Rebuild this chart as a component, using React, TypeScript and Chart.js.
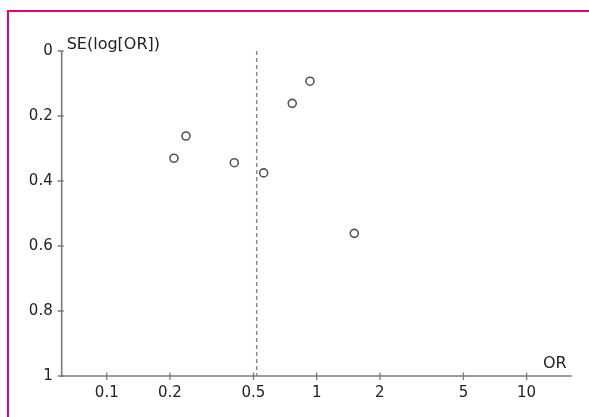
import React, { useEffect, useRef } from "react";
import { Chart, registerables } from "chart.js";

Chart.register(...registerables);

// ---- data ----
const studyOR = [0.209, 0.2385, 0.405, 0.559, 0.765, 0.929, 1.51];
const studySE = [0.33, 0.2615, 0.3437, 0.375, 0.161, 0.093, 0.561];
const pooledOR = 0.518;
const xTicks = [0.1, 0.2, 0.5, 1, 2, 5, 10];
const yTicks = [0, 0.2, 0.4, 0.6, 0.8, 1];
const xMin = 0.061;
const xMax = 16.4;
const xTitle = "OR";
const yTitle = "SE(log[OR])";

const AXIS_COLOR = "#7a7a7a";
const FONT = "'DejaVu Sans', 'Liberation Sans', Arial, sans-serif";

const axesPlugin = {
  id: "funnelAxes",
  beforeDatasetsDraw(chart: any) {
    const { ctx, chartArea } = chart;
    const xs = chart.scales.x;
    const ys = chart.scales.y;
    ctx.save();
    ctx.strokeStyle = AXIS_COLOR;
    ctx.lineWidth = 1.6;
    ctx.beginPath();
    ctx.moveTo(chartArea.left, chartArea.top);
    ctx.lineTo(chartArea.left, chartArea.bottom);
    ctx.lineTo(chartArea.right, chartArea.bottom);
    ctx.stroke();
    ctx.lineWidth = 1.3;
    ctx.beginPath();
    xTicks.forEach((v) => {
      const px = xs.getPixelForValue(v);
      ctx.moveTo(px, chartArea.bottom - 3.5);
      ctx.lineTo(px, chartArea.bottom + 4);
    });
    yTicks.forEach((v) => {
      const py = ys.getPixelForValue(v);
      ctx.moveTo(chartArea.left - 4, py);
      ctx.lineTo(chartArea.left + 2, py);
    });
    ctx.stroke();
    ctx.fillStyle = "#222";
    ctx.font = `16px ${FONT}`;
    ctx.textBaseline = "alphabetic";
    ctx.textAlign = "left";
    ctx.fillText(yTitle, chartArea.left + 5, chartArea.top - 2);
    ctx.textAlign = "right";
    ctx.fillText(xTitle, chartArea.right - 5, chartArea.bottom - 8);
    ctx.restore();
  },
};

export default function App() {
  const ref = useRef<HTMLCanvasElement | null>(null);

  useEffect(() => {
    if (!ref.current) return;
    const chart = new Chart(ref.current, {
      type: "scatter",
      data: {
        datasets: [
          {
            type: "line",
            data: [
              { x: pooledOR, y: 0 },
              { x: pooledOR, y: 1 },
            ],
            borderColor: "#8a8a8a",
            borderWidth: 1.5,
            borderDash: [4, 3],
            pointRadius: 0,
            fill: false,
          } as any,
          {
            data: studyOR.map((o, i) => ({ x: o, y: studySE[i] })),
            pointRadius: 4,
            pointHoverRadius: 4,
            pointBackgroundColor: "#ffffff",
            pointBorderColor: "#555555",
            pointBorderWidth: 1.6,
            showLine: false,
          },
        ],
      },
      options: {
        animation: false,
        responsive: false,
        maintainAspectRatio: false,
        events: [],
        layout: { padding: { left: 0, top: 51, right: 17.3, bottom: 0 } },
        plugins: {
          legend: { display: false },
          tooltip: { enabled: false },
          title: { display: false },
        },
        scales: {
          x: {
            type: "logarithmic",
            min: xMin,
            max: xMax,
            grid: { display: false, drawTicks: false },
            border: { display: false },
            afterBuildTicks: (s: any) => {
              s.ticks = xTicks.map((v) => ({ value: v }));
            },
            afterFit: (s: any) => {
              s.height = 41;
            },
            ticks: {
              autoSkip: false,
              maxRotation: 0,
              padding: 8,
              color: "#222",
              font: { family: FONT, size: 15 },
              callback: (v: any) => String(v),
            },
          },
          y: {
            type: "linear",
            reverse: true,
            min: 0,
            max: 1,
            grid: { display: false, drawTicks: false },
            border: { display: false },
            afterBuildTicks: (s: any) => {
              s.ticks = yTicks.map((v) => ({ value: v }));
            },
            afterFit: (s: any) => {
              s.width = 61.7;
            },
            ticks: {
              autoSkip: false,
              padding: 9,
              color: "#222",
              font: { family: FONT, size: 15 },
              callback: (v: any) => String(v),
            },
          },
        },
      },
      plugins: [axesPlugin],
    });
    return () => chart.destroy();
  }, []);

  return (
    <div
      style={{
        position: "fixed",
        left: 0,
        top: 0,
        width: 589,
        height: 417,
        background: "#fff",
        overflow: "hidden",
      }}
    >
      <canvas
        ref={ref}
        width={589}
        height={417}
        style={{ position: "absolute", left: 0, top: 0, width: 589, height: 417 }}
      />
      <div
        style={{
          position: "absolute",
          left: 7,
          top: 10,
          width: 700,
          height: 600,
          borderLeft: "2px solid #e4007c",
          borderTop: "2px solid #e4007c",
          boxSizing: "border-box",
          pointerEvents: "none",
        }}
      />
    </div>
  );
}
